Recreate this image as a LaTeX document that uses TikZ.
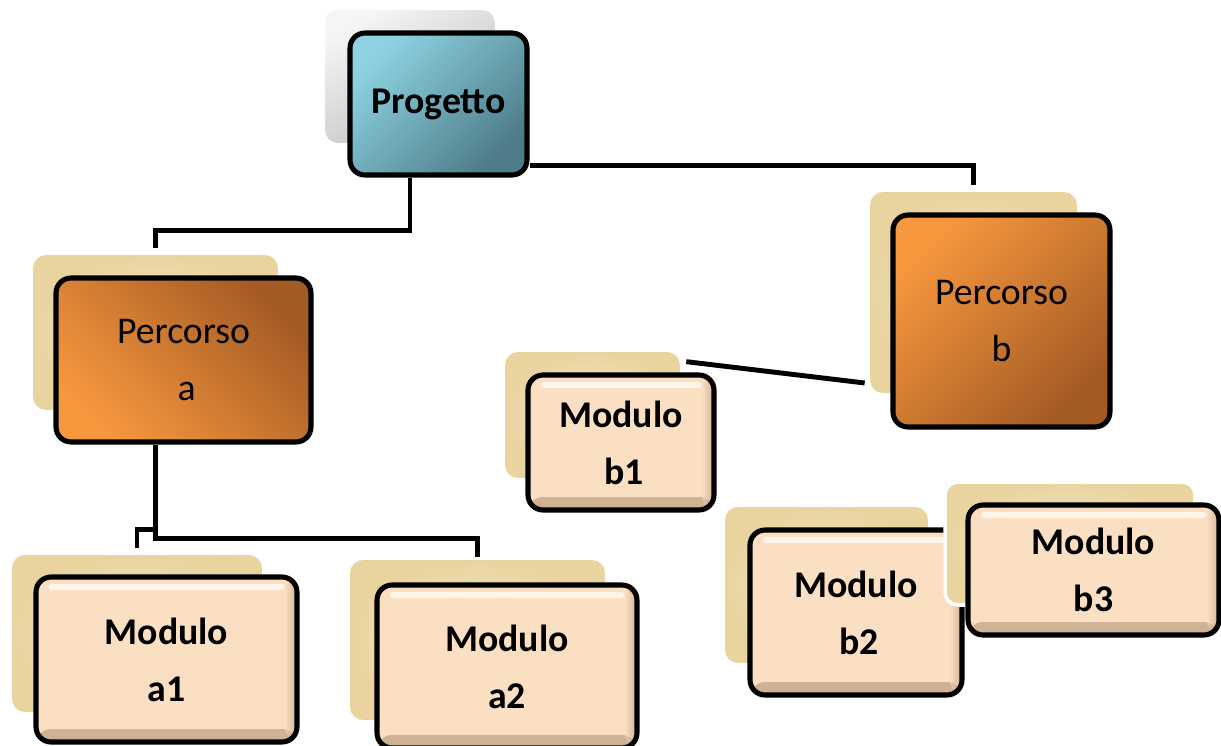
\documentclass[tikz,border=0pt]{standalone}
\usepackage{fontspec}
\setmainfont{Carlito}
\usepackage{tikz}
\usetikzlibrary{positioning}

\definecolor{papyrus}{RGB}{233,212,160}
\definecolor{papyrusLight}{RGB}{246,233,202}
\definecolor{marble}{RGB}{188,188,192}
\definecolor{tealLight}{RGB}{142,210,226}
\definecolor{tealDark}{RGB}{78,124,136}
\definecolor{orangeLight}{RGB}{247,151,62}
\definecolor{orangeDark}{RGB}{163,91,36}
\definecolor{peach}{RGB}{251,223,194}
\definecolor{peachShadow}{RGB}{168,136,108}

\begin{document}
\begin{tikzpicture}[x=0.02cm, y=-0.02cm,
  every node/.style={font=\fontsize{21.5}{32.5}\selectfont, align=center, inner sep=0pt},
  tile/.style={rounded corners=0.26cm, inner color=papyrusLight, outer color=papyrus},
  marble tile/.style={rounded corners=0.26cm, top color=gray!8, bottom color=marble, shading angle=30},
  box/.style={draw, line width=2.9pt, rounded corners=0.3cm},
  proj/.style={box, top color=tealLight, bottom color=tealDark, shading angle=45,
    font=\fontsize{21.5}{32.5}\selectfont\bfseries},
  route/.style={box, top color=orangeLight, bottom color=orangeDark, shading angle=#1},
  unit/.style={box, fill=peach, font=\fontsize{21.5}{32.5}\selectfont\bfseries,
    path picture={
      \shade[top color=peach, bottom color=peachShadow, opacity=0.55]
        ([yshift=0.26cm]path picture bounding box.south west) rectangle (path picture bounding box.south east);
      \shade[left color=peach, right color=peachShadow, opacity=0.5]
        ([xshift=-0.24cm]path picture bounding box.north east) rectangle (path picture bounding box.south east);
      \fill[white, opacity=0.7, rounded corners=2pt]
        ([shift={(0.25cm,-0.14cm)}]path picture bounding box.north west) rectangle
        ([shift={(-0.25cm,-0.26cm)}]path picture bounding box.north east);
    }},
  link/.style={line width=2.8pt}]

\useasboundingbox (0,0) rectangle (1221,745);

% textured tiles behind the boxes
\node[marble tile, minimum width=3.4cm, minimum height=2.66cm] (progT) at (410,76.5) {};
\node[tile, minimum width=4.9cm, minimum height=3.1cm] (routeAT) at (155.5,332.5) {};
\node[tile, minimum width=4.14cm, minimum height=4.02cm] (routeBT) at (973.5,292.5) {};
\node[tile, minimum width=3.5cm, minimum height=2.52cm] (modB1T) at (592.5,415) {};
\node[tile, minimum width=5cm, minimum height=3.14cm] (modA1T) at (137,633.5) {};
\node[tile, minimum width=5.1cm, minimum height=3.2cm] (modA2T) at (477.5,640) {};
\node[tile, minimum width=4.06cm, minimum height=3.12cm] (modB2T) at (826.5,585) {};

% project and routes
\node[proj, minimum width=3.54cm, minimum height=2.84cm] (prog) at (438.5,104) {Progetto};
\node[route=135, minimum width=5.1cm, minimum height=3.28cm] (routeA) at (183.5,360) {Percorso\\\,a};
\node[route=45, minimum width=4.34cm, minimum height=4.24cm] (routeB) at (1001.5,321) {Percorso\\b};

% modules
\node[unit, minimum width=3.72cm, minimum height=2.7cm] (modB1) at (621,442.5) {Modulo\\\,b1};
\node[unit, minimum width=5.22cm, minimum height=3.3cm] (modA1) at (166.5,659.5) {Modulo\\a1};
\node[unit, minimum width=5.2cm, minimum height=3.26cm] (modA2) at (507,666.5) {Modulo\\a2};
\node[unit, minimum width=4.24cm, minimum height=3.3cm] (modB2) at (856,612.5) {Modulo\\\,b2};
\node[tile, draw=white, line width=2pt, minimum width=5cm, minimum height=2.46cm] (modB3T) at (1070,543.5) {};
\node[unit, minimum width=5.02cm, minimum height=2.6cm] (modB3) at (1093.5,570) {Modulo\\b3};

\draw[link] (progT.center |- prog.south) -- ++(0,53) -| ([yshift=0.14cm]routeAT.north);
\draw[link] ([yshift=0.24cm]prog.south east) -| ([yshift=0.14cm]routeBT.north);
\draw[link] ([xshift=0.12cm,yshift=-0.2cm]modB1T.north east) -- ([xshift=-0.1cm,yshift=-1.81cm]routeBT.west);
\draw[link] (routeAT.center |- routeA.south) -- ++(0,94) -| ([yshift=0.06cm]modA2T.north);
\draw[link] (routeAT.center |- routeA.south) -- ++(0,85) -| ([yshift=0.14cm]modA1T.north);
\end{tikzpicture}
\end{document}
